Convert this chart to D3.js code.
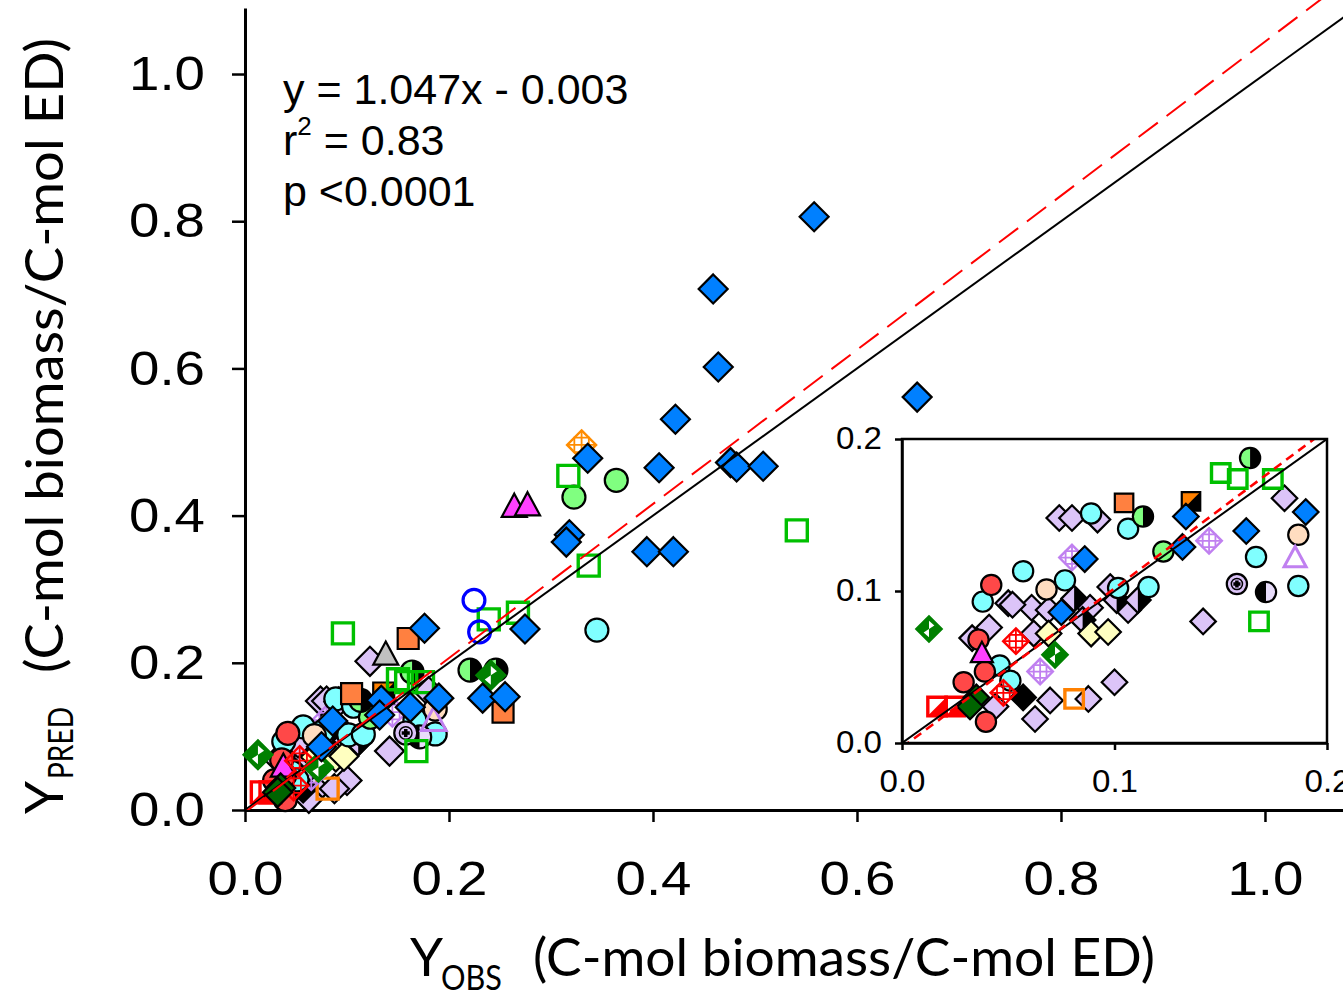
<!DOCTYPE html>
<html>

<head>
    <meta charset="UTF-8">
    <title>Y pred vs Y obs</title>
    <script src="https://d3js.org/d3.v7.min.js"></script>
    <style>
        body {
            margin: 0;
            background-color: white;
        }
        .tick text {
            font-family: "Liberation Sans", Arial, sans-serif;
        }
    </style>
</head>

<body>
    <div id="chart"></div>
    <script>
        // data: [Yobs, Ypred]
        var blueDiamond = [
            [0.558, 0.806], [0.459, 0.708], [0.464, 0.602], [0.422, 0.531], [0.406, 0.465],
            [0.476, 0.472], [0.482, 0.466], [0.508, 0.467], [0.659, 0.561], [0.394, 0.351],
            [0.420, 0.351], [0.336, 0.478], [0.318, 0.374], [0.315, 0.364], [0.2745, 0.246],
            [0.176, 0.247], [0.233, 0.152], [0.255, 0.154], [0.190, 0.152], [0.162, 0.1395],
            [0.1336, 0.149], [0.132, 0.129], [0.086, 0.121], [0.075, 0.086]
        ];
        var lavenderDiamond = [
            [0.1225, 0.202], [0.050, 0.092], [0.061, 0.089], [0.069, 0.0875], [0.041, 0.076],
            [0.033, 0.069], [0.062, 0.072], [0.0697, 0.028], [0.0626, 0.0158], [0.044, 0.024],
            [0.074, 0.148], [0.080, 0.148], [0.092, 0.147], [0.098, 0.1026], [0.1064, 0.0875],
            [0.0885, 0.089], [0.052, 0.091], [0.180, 0.161], [0.1417, 0.080], [0.100, 0.040],
            [0.0877, 0.029]
        ];
        var lavenderHalfDiamond = [[0.081, 0.095], [0.085, 0.081], [0.101, 0.094], [0.111, 0.094]];
        var yellowDiamond = [[0.069, 0.072], [0.089, 0.072], [0.097, 0.073]];
        var greenHourglass = [[0.0127, 0.075], [0.072, 0.058], [0.241, 0.183]];
        var darkGreenDiamond = [[0.035, 0.030], [0.032, 0.024]];
        var blackDiamond = [[0.057, 0.030]];
        var cyanCircle = [
            [0.057, 0.113], [0.038, 0.093], [0.046, 0.051], [0.051, 0.041], [0.089, 0.151],
            [0.1064, 0.141], [0.0767, 0.107], [0.1017, 0.102], [0.116, 0.1026], [0.1666, 0.1224],
            [0.1865, 0.1033], [0.345, 0.2445]
        ];
        var redCircle = [[0.042, 0.104], [0.036, 0.068], [0.039, 0.047], [0.029, 0.040], [0.0395, 0.014]];
        var peachCircle = [[0.068, 0.101], [0.1865, 0.137]];
        var greenCircle = [[0.123, 0.126], [0.364, 0.448], [0.3225, 0.425]];
        var halfGreenBlackCircle = [[0.1134, 0.149], [0.1638, 0.1875], [0.2206, 0.190], [0.246, 0.190]];
        var halfBlackLavenderCircle = [[0.1713, 0.0993]];
        var lavenderDotCircle = [[0.1576, 0.1046]];
        var blueOpenCircle = [[0.2245, 0.285], [0.230, 0.242]];
        var greenOpenSquare = [
            [0.150, 0.1776], [0.158, 0.1737], [0.1745, 0.1737], [0.168, 0.080], [0.096, 0.240],
            [0.239, 0.259], [0.2676, 0.268], [0.337, 0.332], [0.317, 0.454], [0.541, 0.380]
        ];
        var orangeSquare = [[0.1045, 0.158], [0.160, 0.233], [0.253, 0.133]];
        var orangeBlackSquare = [[0.136, 0.159]];
        var orangeOpenSquare = [[0.081, 0.029]];
        var redHalfSquare = [[0.0165, 0.024], [0.025, 0.024]];
        var redCrossDiamond = [[0.0536, 0.067], [0.0477, 0.033]];
        var lavenderCrossDiamond = [[0.080, 0.122], [0.065, 0.047], [0.1445, 0.133]];
        var orangeCrossDiamond = [[0.330, 0.496]];
        var magentaTriangle = [[0.264, 0.412], [0.277, 0.414], [0.0376, 0.059]];
        var grayTriangle = [[0.138, 0.211]];
        var lavenderOpenTriangle = [[0.185, 0.1217]];

        var mainTicks = [0, 0.2, 0.4, 0.6, 0.8, 1.0];
        var insetTicks = [0, 0.1, 0.2];
        var slope = 1.047, intercept = -0.003;
        var statLines = ['y = 1.047x - 0.003', 'r', 'p <0.0001'];

        (function(d3) {

            var width = 1343, height = 998;

            var svg = d3.select('#chart')
                .append('svg')
                    .attr('width', width)
                    .attr('height', height);

            var LAV = '#DCC4F8';

            // drawing order and style of each group
            var groups = [
                { data: lavenderDiamond, type: 'diamond', fill: LAV },
                { data: lavenderHalfDiamond, type: 'halfDiamond', fill: LAV },
                { data: yellowDiamond, type: 'diamond', fill: '#FFFFC0' },
                { data: blackDiamond, type: 'diamond', fill: '#000000' },
                { data: orangeOpenSquare, type: 'openSquare', color: '#FF8000' },
                { data: lavenderCrossDiamond, type: 'crossDiamond', color: '#C080F0' },
                { data: orangeCrossDiamond, type: 'crossDiamond', color: '#FF8C00' },
                { data: cyanCircle, type: 'circle', fill: '#80FFFF' },
                { data: peachCircle, type: 'circle', fill: '#FFDDC0' },
                { data: greenCircle, type: 'circle', fill: '#80FF80' },
                { data: halfGreenBlackCircle, type: 'halfCircle', left: '#80FF80', right: '#000000' },
                { data: halfBlackLavenderCircle, type: 'halfCircle', left: '#000000', right: '#E8DCFA' },
                { data: lavenderDotCircle, type: 'dotCircle', fill: LAV },
                { data: lavenderOpenTriangle, type: 'openTriangle', color: '#C080F0' },
                { data: redCircle, type: 'circle', fill: '#FF4848' },
                { data: magentaTriangle, type: 'triangle', fill: '#FF40FF' },
                { data: grayTriangle, type: 'triangle', fill: '#C0C0C0' },
                { data: orangeSquare, type: 'square', fill: '#FF8040' },
                { data: orangeBlackSquare, type: 'halfSquare', fill: '#FF8000' },
                { data: greenOpenSquare, type: 'openSquare', color: '#00C000' },
                { data: blueOpenCircle, type: 'openCircle', color: '#0000FF' },
                { data: redHalfSquare, type: 'redHalfSquare', color: '#FF0000' },
                { data: redCrossDiamond, type: 'crossDiamond', color: '#FF0000' },
                { data: darkGreenDiamond, type: 'diamond', fill: '#006400' },
                { data: greenHourglass, type: 'hourglass', fill: '#008000' },
                { data: blueDiamond, type: 'diamond', fill: '#0080FF' }
            ];

            function drawMarker(g, st, k) {
                var h = 14.5 * k, r = 11.5 * k, s = 10.5 * k, t = 12.5 * k;
                var dia = 'M0,' + (-h) + 'L' + h + ',0L0,' + h + 'L' + (-h) + ',0Z';
                var sq = 'M' + (-s) + ',' + (-s) + 'H' + s + 'V' + s + 'H' + (-s) + 'Z';
                var tri = 'M0,' + (-t * 1.05) + 'L' + t + ',' + (t * 0.8) + 'L' + (-t) + ',' + (t * 0.8) + 'Z';
                var sw = 2.2;
                switch (st.type) {
                    case 'diamond':
                        g.append('path').attr('d', dia).attr('fill', st.fill).attr('stroke', '#000').attr('stroke-width', sw);
                        break;
                    case 'halfDiamond':
                        g.append('path').attr('d', dia).attr('fill', st.fill);
                        g.append('path').attr('d', 'M0,' + (-h) + 'L' + h + ',0L0,' + h + 'Z').attr('fill', '#000');
                        g.append('path').attr('d', dia).attr('fill', 'none').attr('stroke', '#000').attr('stroke-width', sw);
                        break;
                    case 'hourglass':
                        g.append('path').attr('d', dia).attr('fill', st.fill).attr('stroke', st.fill).attr('stroke-width', sw);
                        g.append('path').attr('d', 'M0,0L0,' + (-0.65 * h) + 'L' + (0.42 * h) + ',' + (-0.28 * h) + 'Z').attr('fill', '#fff');
                        g.append('path').attr('d', 'M0,0L0,' + (0.65 * h) + 'L' + (-0.42 * h) + ',' + (0.28 * h) + 'Z').attr('fill', '#fff');
                        break;
                    case 'crossDiamond':
                        g.append('path').attr('d', dia).attr('fill', 'none').attr('stroke', st.color).attr('stroke-width', 2.4);
                        g.append('path')
                            .attr('d', 'M0,' + (-h) + 'V' + h + 'M' + (-h) + ',0H' + h +
                                'M' + (-h / 2) + ',' + (-h / 2) + 'H' + (h / 2) + 'V' + (h / 2) + 'H' + (-h / 2) + 'Z')
                            .attr('fill', 'none').attr('stroke', st.color).attr('stroke-width', 1.8);
                        break;
                    case 'circle':
                        g.append('circle').attr('r', r).attr('fill', st.fill).attr('stroke', '#000').attr('stroke-width', sw);
                        break;
                    case 'halfCircle':
                        g.append('path').attr('d', 'M0,' + (-r) + 'A' + r + ',' + r + ' 0 0 0 0,' + r + 'Z').attr('fill', st.left);
                        g.append('path').attr('d', 'M0,' + (-r) + 'A' + r + ',' + r + ' 0 0 1 0,' + r + 'Z').attr('fill', st.right);
                        g.append('circle').attr('r', r).attr('fill', 'none').attr('stroke', '#000').attr('stroke-width', sw);
                        break;
                    case 'dotCircle':
                        g.append('circle').attr('r', r).attr('fill', st.fill).attr('stroke', '#000').attr('stroke-width', sw);
                        g.append('circle').attr('r', r * 0.55).attr('fill', 'none').attr('stroke', '#000').attr('stroke-width', 1.5);
                        g.append('path').attr('d', 'M0,' + (-r * 0.35) + 'V' + (r * 0.35) + 'M' + (-r * 0.35) + ',0H' + (r * 0.35))
                            .attr('stroke', '#000').attr('stroke-width', 3.5);
                        break;
                    case 'openCircle':
                        g.append('circle').attr('r', r * 0.95).attr('fill', 'none').attr('stroke', st.color).attr('stroke-width', 3.2);
                        break;
                    case 'square':
                        g.append('path').attr('d', sq).attr('fill', st.fill).attr('stroke', '#000').attr('stroke-width', sw);
                        break;
                    case 'halfSquare':
                        g.append('path').attr('d', sq).attr('fill', '#000');
                        g.append('path').attr('d', 'M' + (-s) + ',' + (-s) + 'H' + s + 'L' + (-s) + ',' + s + 'Z').attr('fill', st.fill);
                        g.append('path').attr('d', sq).attr('fill', 'none').attr('stroke', '#000').attr('stroke-width', sw);
                        break;
                    case 'openSquare':
                        g.append('path').attr('d', sq).attr('fill', 'none').attr('stroke', st.color).attr('stroke-width', 3.4);
                        break;
                    case 'redHalfSquare':
                        g.append('path').attr('d', 'M' + s + ',' + (-s) + 'V' + s + 'H' + (-s) + 'Z').attr('fill', st.color);
                        g.append('path').attr('d', sq).attr('fill', 'none').attr('stroke', st.color).attr('stroke-width', 3.4);
                        break;
                    case 'triangle':
                        g.append('path').attr('d', tri).attr('fill', st.fill).attr('stroke', '#000').attr('stroke-width', sw);
                        break;
                    case 'openTriangle':
                        g.append('path').attr('d', tri).attr('fill', 'none').attr('stroke', st.color).attr('stroke-width', 3);
                        break;
                }
            }

            function drawPoints(layer, x, y, k, keep) {
                groups.forEach(function(st) {
                    layer.append('g')
                        .selectAll('g')
                        .data(st.data.filter(keep))
                        .enter()
                        .append('g')
                        .attr('transform', function(d) { return 'translate(' + x(d[0]) + ',' + y(d[1]) + ')'; })
                        .each(function() { drawMarker(d3.select(this), st, k); });
                });
            }

            function fitLine(x) { return slope * x + intercept; }

            // ---------- main panel ----------
            var x = d3.scaleLinear().domain([0, 1.0765]).range([245, 1343]);
            var y = d3.scaleLinear().domain([0, 1.0897]).range([810, 8]);

            var xAxis = svg.append('g')
                .attr('transform', 'translate(0,' + y(0) + ')')
                .call(d3.axisBottom(x).tickValues(mainTicks).tickFormat(d3.format('.1f'))
                    .tickSizeInner(12).tickSizeOuter(0).tickPadding(38));
            var yAxis = svg.append('g')
                .attr('transform', 'translate(' + x(0) + ',0)')
                .call(d3.axisLeft(y).tickValues(mainTicks).tickFormat(d3.format('.1f'))
                    .tickSizeInner(13).tickSizeOuter(0).tickPadding(27));
            [xAxis, yAxis].forEach(function(a) {
                a.selectAll('path, line').attr('stroke', '#000').attr('stroke-width', 2.5);
                a.selectAll('text').attr('font-size', 49).attr('fill', '#000')
                    .attr('textLength', 76).attr('lengthAdjust', 'spacingAndGlyphs');
            });
            xAxis.select('.domain').attr('stroke-width', 3);
            yAxis.select('.domain').attr('stroke-width', 3);

            drawPoints(svg.append('g'), x, y, 1, function() { return true; });

            var clipMain = svg.append('clipPath').attr('id', 'clipMain');
            clipMain.append('rect').attr('x', x(0)).attr('y', 0).attr('width', width - x(0)).attr('height', y(0));
            var lines = svg.append('g').attr('clip-path', 'url(#clipMain)');
            var line = d3.line().x(function(d) { return x(d[0]); }).y(function(d) { return y(d[1]); });
            lines.append('path').datum([[0, 0], [1.1, 1.1]]).attr('d', line)
                .attr('fill', 'none').attr('stroke', '#000').attr('stroke-width', 2);
            lines.append('path').datum([[0, fitLine(0)], [1.1, fitLine(1.1)]]).attr('d', line)
                .attr('fill', 'none').attr('stroke', '#FF0000').attr('stroke-width', 2)
                .attr('stroke-dasharray', '24,11');

            // statistics
            var stat = svg.append('g')
                .attr('font-family', '"Liberation Sans", Arial, sans-serif')
                .attr('font-size', 43).attr('fill', '#000');
            stat.append('text').attr('x', 283).attr('y', 104).text(statLines[0]);
            var r2 = stat.append('text').attr('x', 283).attr('y', 155);
            r2.append('tspan').text(statLines[1]);
            r2.append('tspan').attr('font-size', 26).attr('dy', -20).text('2');
            r2.append('tspan').attr('dy', 20).text(' = 0.83');
            stat.append('text').attr('x', 283).attr('y', 206).text(statLines[2]);

            // axis titles
            var titleFont = 'Lato, "Open Sans", sans-serif';
            var xt = svg.append('g').attr('font-family', titleFont).attr('fill', '#000');
            xt.append('text').attr('x', 410).attr('y', 976).attr('font-size', 53).text('Y');
            xt.append('text').attr('x', 441).attr('y', 990).attr('font-size', 34)
                .attr('textLength', 61).attr('lengthAdjust', 'spacingAndGlyphs').text('OBS');
            xt.append('text').attr('x', 533).attr('y', 976).attr('font-size', 53)
                .attr('textLength', 622).attr('lengthAdjust', 'spacingAndGlyphs')
                .text('(C-mol biomass/C-mol ED)');

            var yt = svg.append('g').attr('font-family', titleFont).attr('fill', '#000')
                .attr('transform', 'translate(63,0) rotate(-90)');
            yt.append('text').attr('x', -814).attr('y', 0).attr('font-size', 53).text('Y');
            yt.append('text').attr('x', -779).attr('y', 10).attr('font-size', 35)
                .attr('textLength', 72).attr('lengthAdjust', 'spacingAndGlyphs').text('PRED');
            yt.append('text').attr('x', -673).attr('y', 0).attr('font-size', 53)
                .attr('textLength', 635).attr('lengthAdjust', 'spacingAndGlyphs')
                .text('(C-mol biomass/C-mol  ED)');

            // ---------- inset ----------
            var xi = d3.scaleLinear().domain([0, 0.2]).range([902, 1327]);
            var yi = d3.scaleLinear().domain([0, 0.2]).range([743, 439]);

            svg.append('rect').attr('x', xi(0)).attr('y', yi(0.2))
                .attr('width', xi(0.2) - xi(0)).attr('height', yi(0) - yi(0.2))
                .attr('fill', '#fff');

            var clipInset = svg.append('clipPath').attr('id', 'clipInset');
            clipInset.append('rect').attr('x', xi(0)).attr('y', yi(0.2))
                .attr('width', xi(0.2) - xi(0)).attr('height', yi(0) - yi(0.2));

            var inset = svg.append('g').attr('clip-path', 'url(#clipInset)');
            drawPoints(inset, xi, yi, 0.88, function(d) { return d[0] <= 0.2 && d[1] <= 0.2; });

            var linei = d3.line().x(function(d) { return xi(d[0]); }).y(function(d) { return yi(d[1]); });
            inset.append('path').datum([[0, 0], [0.2, 0.2]]).attr('d', linei)
                .attr('fill', 'none').attr('stroke', '#000').attr('stroke-width', 2);
            inset.append('path').datum([[0, fitLine(0)], [0.21, fitLine(0.21)]]).attr('d', linei)
                .attr('fill', 'none').attr('stroke', '#FF0000').attr('stroke-width', 2.6)
                .attr('stroke-dasharray', '9,6');

            var xiAxis = svg.append('g')
                .attr('transform', 'translate(0,' + yi(0) + ')')
                .call(d3.axisBottom(xi).tickValues(insetTicks).tickFormat(d3.format('.1f'))
                    .tickSizeInner(7).tickSizeOuter(0).tickPadding(20));
            var yiAxis = svg.append('g')
                .attr('transform', 'translate(' + xi(0) + ',0)')
                .call(d3.axisLeft(yi).tickValues(insetTicks).tickFormat(d3.format('.1f'))
                    .tickSizeInner(7).tickSizeOuter(0).tickPadding(13));
            [xiAxis, yiAxis].forEach(function(a) {
                a.selectAll('path, line').attr('stroke', '#000').attr('stroke-width', 2.5);
                a.selectAll('text').attr('font-size', 31).attr('fill', '#000')
                    .attr('textLength', 46).attr('lengthAdjust', 'spacingAndGlyphs');
            });
            svg.append('rect').attr('x', xi(0)).attr('y', yi(0.2))
                .attr('width', xi(0.2) - xi(0)).attr('height', yi(0) - yi(0.2))
                .attr('fill', 'none').attr('stroke', '#000').attr('stroke-width', 2.5);

        })(window.d3);
    </script>
</body>

</html>
